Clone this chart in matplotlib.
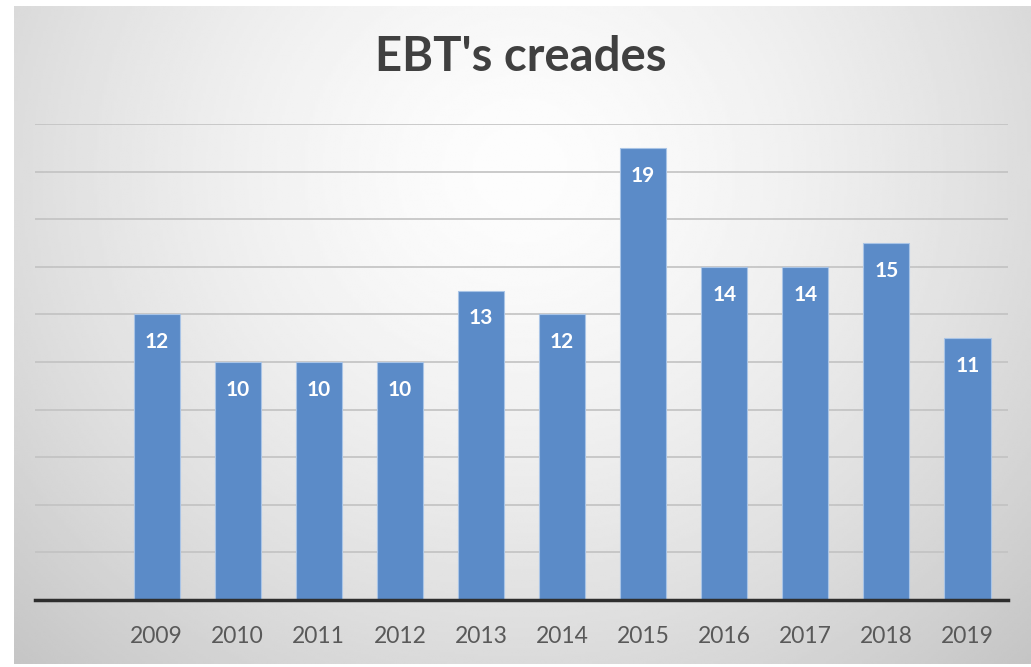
import numpy as np
import matplotlib
matplotlib.use("Agg")
import matplotlib.pyplot as plt

years = ["", "2009", "2010", "2011", "2012", "2013", "2014", "2015", "2016", "2017", "2018", "2019"]
values = [np.nan, 12, 10, 10, 10, 13, 12, 19, 14, 14, 15, 11]
title = "EBT's creades"

W, H = 1031, 667
fig = plt.figure(figsize=(W / 100, H / 100), dpi=100)
fig.patch.set_facecolor("white")

# background gradient panel
bx0, by0, bx1, by1 = 14, 6, 1031, 664  # pixel box (top-left origin)
bg = fig.add_axes([bx0 / W, 1 - by1 / H, (bx1 - bx0) / W, (by1 - by0) / H], zorder=0)
xs = np.linspace(bx0, bx1, 400)
ys = np.linspace(by0, by1, 300)
X, Y = np.meshgrid(xs, ys)
r = np.sqrt(((X - 520) / 640) ** 2 + ((Y - 170) / 600) ** 2)
val = np.clip(253 - 46 * r ** 1.5, 185, 255) / 255.0
bg.imshow(val, cmap="gray", vmin=0, vmax=1, aspect="auto", interpolation="bilinear")
bg.axis("off")

# main axes
ax_left, ax_right = 35, 1008
ax_top, ax_bottom = 124, 600
ax = fig.add_axes([ax_left / W, 1 - ax_bottom / H, (ax_right - ax_left) / W, (ax_bottom - ax_top) / H], zorder=1)
ax.patch.set_alpha(0)

x = np.arange(len(years))
bars = ax.bar(x, values, width=0.57, color="#5b8bc8", edgecolor="#a9c4e6", linewidth=0.8, zorder=3)
ax.set_xlim(-0.5, len(years) - 0.5)
ax.set_ylim(0, 20)
ax.set_yticks(np.arange(0, 21, 2))
ax.yaxis.grid(True, color="#c2c2c2", linewidth=1.2, zorder=0)
ax.set_axisbelow(True)
ax.tick_params(axis="y", left=False, labelleft=False)
ax.tick_params(axis="x", bottom=False, pad=15, labelsize=16.5, labelcolor="#595959")
ax.set_xticks(x)
ax.set_xticklabels(years, fontfamily="Lato")
for s in ["top", "right", "left"]:
    ax.spines[s].set_visible(False)
ax.spines["bottom"].set_color("#2e2e2e")
ax.spines["bottom"].set_linewidth(2.5)
ax.spines["bottom"].set_zorder(4)

for xi, v in zip(x, values):
    if np.isnan(v):
        continue
    ax.annotate(f"{int(v)}", xy=(xi, v), xytext=(0, -20), textcoords="offset points",
                ha="center", va="center", color="white", fontsize=15,
                fontweight="bold", fontfamily="Lato", zorder=5)

fig.text(521 / W, 1 - 57 / H, title, ha="center", va="center", fontsize=34,
         fontweight="bold", color="#404040", fontfamily="Lato", zorder=2)

fig.savefig("out.png", dpi=100)
